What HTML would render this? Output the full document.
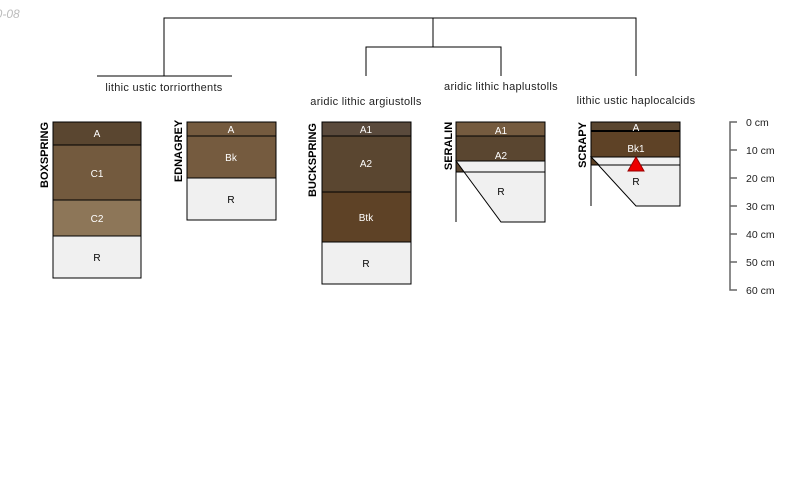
<!DOCTYPE html>
<html><head><style>body{margin:0;background:#fff}svg{display:block}</style></head><body>
<svg width="800" height="500" xmlns="http://www.w3.org/2000/svg" font-family="Liberation Sans, sans-serif">
<text x="-11" y="18" font-size="12" fill="#bbb" font-style="italic">10-08</text>
<g stroke="#000" stroke-width="1" fill="none">
<path d="M164 76V18H636V76M433 18V47M366 76V47H501V76M97 76H232"/>
</g>
<g font-size="11" fill="#222" text-anchor="middle" letter-spacing="0.3">
<text x="164" y="91">lithic ustic torriorthents</text>
<text x="366" y="105">aridic lithic argiustolls</text>
<text x="501" y="90">aridic lithic haplustolls</text>
<text x="636" y="104">lithic ustic haplocalcids</text>
</g>
<g stroke="#000" stroke-width="1">
<rect x="53" y="122" width="88" height="23" fill="#5a4630"/>
<rect x="53" y="145" width="88" height="55" fill="#735a3e"/>
<rect x="53" y="200" width="88" height="36" fill="#8d7658"/>
<rect x="53" y="236" width="88" height="42" fill="#f0f0f0"/>
<rect x="187" y="122" width="89" height="14" fill="#755b3f"/>
<rect x="187" y="136" width="89" height="42" fill="#755b3f"/>
<rect x="187" y="178" width="89" height="42" fill="#f0f0f0"/>
<rect x="322" y="122" width="89" height="14" fill="#5a4a3c"/>
<rect x="322" y="136" width="89" height="56" fill="#5a4630"/>
<rect x="322" y="192" width="89" height="50" fill="#5e4226"/>
<rect x="322" y="242" width="89" height="42" fill="#f0f0f0"/>
<rect x="456" y="122" width="89" height="14" fill="#755b3f"/>
<rect x="456" y="136" width="89" height="25" fill="#5a4630"/>
<polygon points="456,161 545,161 545,222 501,222 456,161" fill="#f0f0f0"/>
<polygon points="456,161 464,172 456,172" fill="#5a4630"/>
<line x1="456" y1="172" x2="545" y2="172"/>
<line x1="456" y1="122" x2="456" y2="222"/>
<rect x="591" y="122" width="89" height="9" fill="#5a4630"/>
<rect x="591" y="131" width="89" height="26" fill="#5e4226" stroke-width="1"/>
<line x1="591" y1="131" x2="680" y2="131" stroke-width="2"/>
<polygon points="591,157 680,157 680,206 636,206 591,157" fill="#f0f0f0"/>
<polygon points="591,157 599,165 591,165" fill="#5e4226"/>
<line x1="591" y1="165" x2="680" y2="165"/>
<line x1="591" y1="122" x2="591" y2="206"/>
<polygon points="636,157 644,171 628,171" fill="#e00" stroke="#900"/>
</g>
<g font-size="10" text-anchor="middle" fill="#fff">
<text x="97" y="137">A</text><text x="97" y="177">C1</text><text x="97" y="222">C2</text><text x="97" y="261" fill="#000">R</text>
<text x="231" y="133">A</text><text x="231" y="161">Bk</text><text x="231" y="203" fill="#000">R</text>
<text x="366" y="133">A1</text><text x="366" y="167">A2</text><text x="366" y="221">Btk</text><text x="366" y="267" fill="#000">R</text>
<text x="501" y="134">A1</text><text x="501" y="159">A2</text><text x="501" y="195" fill="#000">R</text>
<text x="636" y="131">A</text><text x="636" y="152">Bk1</text><text x="636" y="185" fill="#000">R</text>
</g>
<g font-size="11" font-weight="bold" fill="#000" text-anchor="middle">
<text transform="translate(48,155) rotate(-90)">BOXSPRING</text>
<text transform="translate(182,151) rotate(-90)">EDNAGREY</text>
<text transform="translate(316,160) rotate(-90)">BUCKSPRING</text>
<text transform="translate(452,146) rotate(-90)">SERALIN</text>
<text transform="translate(586,145) rotate(-90)">SCRAPY</text>
</g>
<g stroke="#666" stroke-width="1.5" fill="none">
<path d="M737 122H730V290H737M730 150H737M730 178H737M730 206H737M730 234H737M730 262H737"/>
</g>
<g font-size="10.5" fill="#222">
<text x="746" y="126">0 cm</text><text x="746" y="154">10 cm</text><text x="746" y="182">20 cm</text>
<text x="746" y="210">30 cm</text><text x="746" y="238">40 cm</text><text x="746" y="266">50 cm</text><text x="746" y="294">60 cm</text>
</g>
</svg>
</body></html>
